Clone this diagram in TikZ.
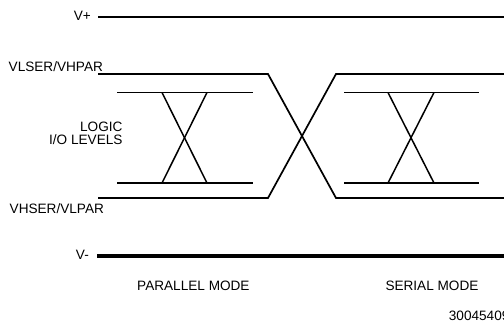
\documentclass[tikz,border=0pt]{standalone}
\usepackage{fontspec}
\setmainfont{Liberation Sans}
\usepackage{tikz}
\usetikzlibrary{positioning,calc}

\begin{document}
\begin{tikzpicture}[x=1pt, y=-1pt,
  lbl/.style={font=\fontsize{13.6}{14}\selectfont, inner sep=0pt},
  railp/.style={line width=2.2pt},
  railm/.style={line width=3.8pt},
  wave/.style={line width=1.7pt},
  level/.style={line width=1.5pt}]
\useasboundingbox (0,0) rectangle (504,322);
% Supply rails
\coordinate (vpa) at (98,17);
\coordinate (vpb) at (504,17);
\coordinate (vma) at (97,256);
\coordinate (vmb) at (504,256);
\draw[railp] (vpa) -- (vpb);
\draw[railm] (vma) -- (vmb);
\node[lbl, anchor=base east] (vplus) at (91,20.5) {V+};
\node[lbl, anchor=base east] (vminus) at (89,259.6) {V-};
% Switching levels
\coordinate (ua) at (98,74);
\coordinate (ub) at (268,74);
\coordinate (uc) at (336,198);
\coordinate (ud) at (504,198);
\coordinate (la) at (98,198);
\coordinate (lb) at (268,198);
\coordinate (lc) at (336,74);
\coordinate (ld) at (504,74);
\draw[wave] (ua) -- (ub) -- (uc) -- (ud);
\draw[wave] (la) -- (lb) -- (lc) -- (ld);
\node[lbl, anchor=base west] (vlser) at (8.5,71) {VLSER/VHPAR};
\node[lbl, anchor=base west] (vhser) at (9.5,213.5) {VHSER/VLPAR};
% Logic I/O levels, parallel side
\coordinate (pt1) at (117,92.5);
\coordinate (pt2) at (253,92.5);
\coordinate (pb1) at (117,183);
\coordinate (pb2) at (253,183);
\draw[level] (pt1) -- (pt2);
\draw[level] (pb1) -- (pb2);
\draw[level] (162,92.5) -- (207,183);
\draw[level] (207,92.5) -- (162,183);
\node[lbl, anchor=base east] (logic) at (122.7,131.7) {LOGIC};
\node[lbl, anchor=base east] (iolev) at (122.7,144) {I/O LEVELS};
% Logic I/O levels, serial side
\coordinate (st1) at (344,92.5);
\coordinate (st2) at (479,92.5);
\coordinate (sb1) at (344,183);
\coordinate (sb2) at (479,183);
\draw[level] (st1) -- (st2);
\draw[level] (sb1) -- (sb2);
\draw[level] (388,92.5) -- (434,183);
\draw[level] (434,92.5) -- (388,183);
% Mode labels
\node[lbl, anchor=base west] (parmode) at (137,290.3) {PARALLEL MODE};
\node[lbl, anchor=base west] (sermode) at (385.3,290) {SERIAL MODE};
\node[lbl, anchor=base west] (figno) at (448.7,320.3) {30045409};
\end{tikzpicture}
\end{document}
